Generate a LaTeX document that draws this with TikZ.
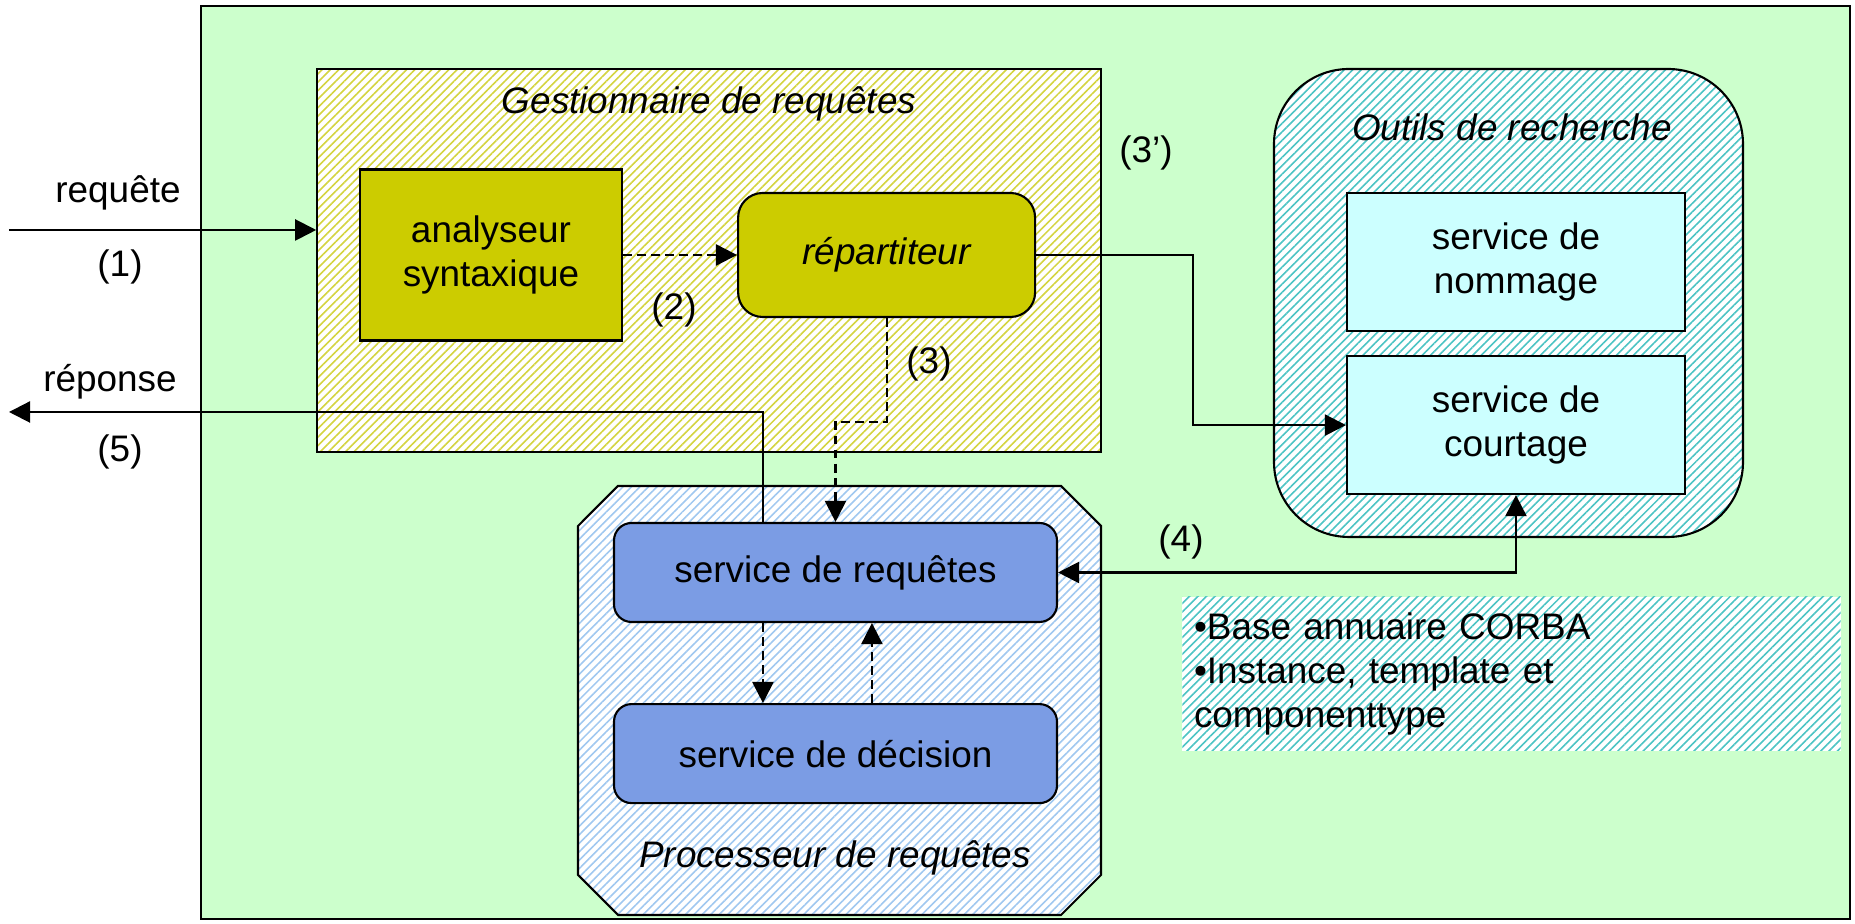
\documentclass[tikz,border=0pt]{standalone}
\usepackage{fontspec}
\setmainfont{Liberation Sans}
\usetikzlibrary{arrows.meta,patterns.meta,positioning}

\definecolor{fond}{HTML}{CCFFCC}
\definecolor{jaunebox}{HTML}{CCCC00}
\definecolor{hachjaune}{HTML}{D4D440}
\definecolor{hachcyan}{HTML}{4CC4C4}
\definecolor{hachbleu}{HTML}{A0C8F0}
\definecolor{bleuserv}{HTML}{7B9CE4}
\definecolor{cyanserv}{HTML}{CCFFFF}

\begin{document}
\begin{tikzpicture}[
        font=\fontsize{10.5}{12.5}\selectfont,
        trait/.style={line width=0.6pt},
        fleche/.style={trait, -{Triangle[length=6pt,width=6pt]}},
        doublefleche/.style={trait, {Triangle[length=6pt,width=6pt]}-{Triangle[length=6pt,width=6pt]}},
        tirets/.style={fleche, dash pattern=on 2.5pt off 1.5pt},
        hachure/.style={preaction={fill=white}, pattern={Lines[angle=45,distance=1.7pt,line width=0.45pt]}, pattern color=#1},
        titre/.style={font=\fontsize{10.5}{12.5}\selectfont\itshape},
        jaunebloc/.style={draw, trait, fill=jaunebox, align=center},
        bleubloc/.style={draw, trait, fill=bleuserv, rounded corners=5pt, minimum width=4.43cm, minimum height=0.99cm},
        cyanbloc/.style={draw, trait, fill=cyanserv, align=center, minimum width=3.38cm, minimum height=1.38cm}
    ]

            \useasboundingbox (0,0) rectangle (18.55,9.24);
            \filldraw[trait, fill=fond] (2.01,0.05) rectangle (18.50,9.18);

            \node[draw, trait, hachure=hachjaune, minimum width=7.84cm, minimum height=3.83cm] (gest) at (7.09,6.635) {};
            \node[draw, trait, hachure=hachcyan, rounded corners=0.75cm, minimum width=4.69cm, minimum height=4.68cm] (outils) at (15.085,6.21) {};
            \draw[trait, hachure=hachbleu] (6.18,4.38) -- (10.61,4.38) -- (11.01,3.98) -- (11.01,0.49) -- (10.61,0.09)
                -- (6.18,0.09) -- (5.78,0.49) -- (5.78,3.98) -- cycle;
            \node[hachure=hachcyan, minimum width=6.53cm, minimum height=1.54cm, text width=6.35cm, align=left] (base) at (15.115,2.50)
                {•Base annuaire CORBA\\•Instance, template et\\componenttype};

            \node[titre] (titregest) at (7.09,8.20) {Gestionnaire de requêtes};
            \node[titre] (titreoutils) at (15.12,7.97) {Outils de recherche};
            \node[titre] (titreproc) at (8.35,0.66) {Processeur de requêtes};

            \node[jaunebloc, minimum width=2.62cm, minimum height=1.71cm] (analyseur) at (4.91,6.69) {analyseur\\syntaxique};
            \node[jaunebloc, titre, rounded corners=7pt, minimum width=2.97cm, minimum height=1.24cm, right=1.14cm of analyseur] (repartiteur) {répartiteur};
            \node[bleubloc] (requetes) at (8.355,3.515) {service de requêtes};
            \node[bleubloc, below=0.80cm of requetes] (decision) {service de décision};
            \node[cyanbloc] (nommage) at (15.16,6.62) {service de\\nommage};
            \node[cyanbloc, below=0.23cm of nommage] (courtage) {service de\\courtage};

            \node (requete) at (1.18,7.31) {requête};
            \node (un) at (1.20,6.57) {(1)};
            \node (reponse) at (1.10,5.42) {réponse};
            \node (cinq) at (1.20,4.72) {(5)};
            \node (deux) at (6.74,6.14) {(2)};
            \node (trois) at (9.29,5.60) {(3)};
            \node (troisp) at (11.46,7.71) {(3’)};
            \node (quatre) at (11.81,3.82) {(4)};

            \coordinate (entree) at (0.09,6.94);
            \coordinate (sortie) at (0.09,5.12);

            \draw[fleche] (entree) -- (entree -| gest.west);
            \draw[fleche] ([xshift=1.5cm]requetes.north west) |- (sortie);
            \draw[tirets] (analyseur.east) -- (repartiteur.west);
            \draw[tirets] (repartiteur.south) -- ++(0,-1.04) -| (requetes.north);
            \draw[fleche] (repartiteur.east) -- ++(1.57,0) |- (courtage.west);
            \draw[doublefleche] (courtage.south) |- (requetes.east);
            \draw[tirets] ([xshift=1.5cm]requetes.south west) -- ++(0,-0.80);
            \draw[tirets] ([xshift=2.59cm]decision.north west) -- ++(0,0.80);

        \end{tikzpicture}
\end{document}
